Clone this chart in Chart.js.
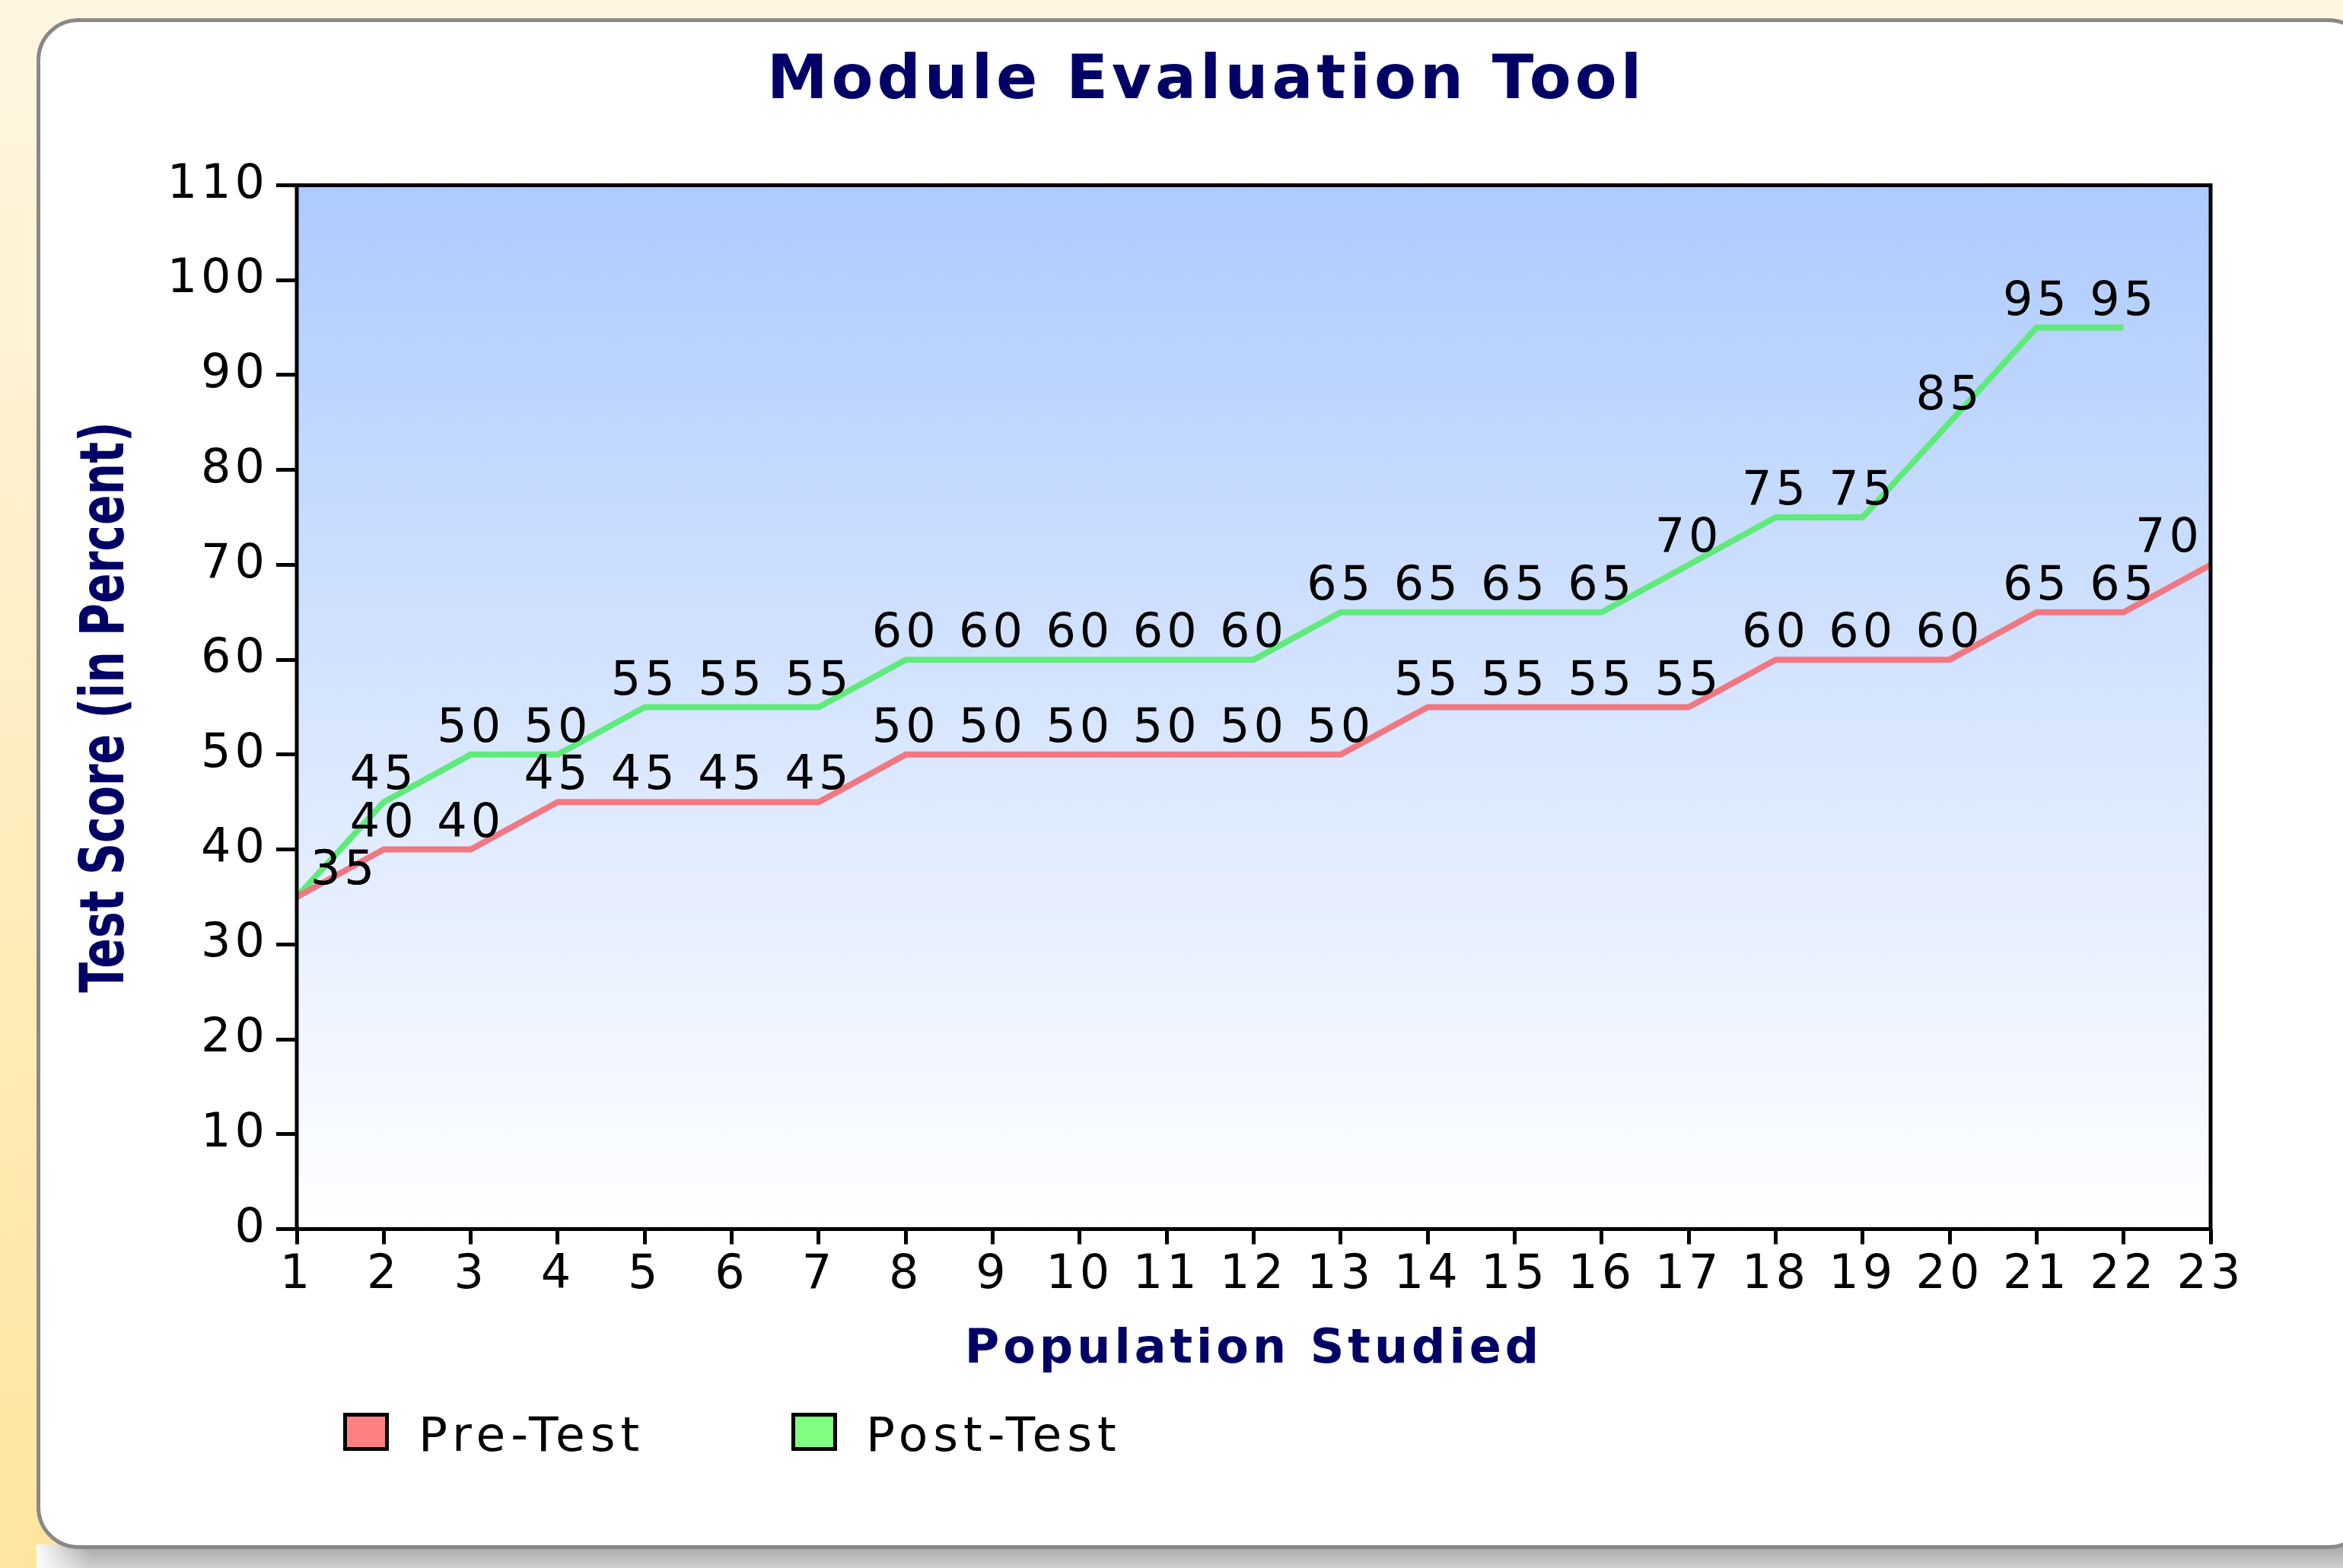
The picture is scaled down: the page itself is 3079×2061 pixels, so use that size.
<!DOCTYPE html>
<html>
<head>
<meta charset="utf-8">
<title>Module Evaluation Tool</title>
<script src="https://cdn.jsdelivr.net/npm/chart.js@4.4.0/dist/chart.umd.min.js"></script>
<style>
    html, body { margin: 0; padding: 0; }
    body {
        width: 3079px;
        height: 2061px;
        overflow: hidden;
        position: relative;
        background: linear-gradient(to bottom, #fff6e2 0%, #ffe59e 100%);
    }
    #shadow {
        position: absolute;
        left: 48px; top: 2030px;
        width: 3100px; height: 31px;
        background:
            linear-gradient(to right, #fdfdfd 0px, rgba(253, 253, 253, 0) 70px),
            linear-gradient(to bottom, #a5a5a5, #d0d0d0);
    }
    #panel {
        position: absolute;
        left: 48px; top: 24px;
        width: 3067px; height: 2012px;
        box-sizing: border-box;
        border: 5px solid #888888;
        border-radius: 55px;
        background: #ffffff;
    }
    #chart { position: absolute; left: 0; top: 0; }
</style>
</head>
<body>
<div id="shadow"></div>
<div id="panel"></div>
<canvas id="chart" width="3079" height="2061"></canvas>
<script>
// ============================================
// DATA
// ============================================
const populationLabels = ['1', '2', '3', '4', '5', '6', '7', '8', '9', '10', '11', '12',
    '13', '14', '15', '16', '17', '18', '19', '20', '21', '22', '23'];
const preTestScores = [35, 40, 40, 45, 45, 45, 45, 50, 50, 50, 50, 50, 50, 55, 55, 55, 55,
    60, 60, 60, 65, 65, 70];
const postTestScores = [35, 45, 50, 50, 55, 55, 55, 60, 60, 60, 60, 60, 65, 65, 65, 65, 70,
    75, 75, 85, 95, 95];
const scoreTicks = [0, 10, 20, 30, 40, 50, 60, 70, 80, 90, 100, 110];
const seriesNames = ['Pre-Test', 'Post-Test'];

// ============================================
// PLUGINS
// ============================================
const NAVY = '#000066';
const FONT = '"DejaVu Sans", Verdana, sans-serif';

// the original font runs wider than DejaVu, so spread the letters a bit
const letterSpacing = {
    id: 'letterSpacing',
    beforeLayout(chart) { chart.ctx.letterSpacing = '5px'; },
    beforeDraw(chart) { chart.ctx.letterSpacing = '5px'; }
};

const plotBackground = {
    id: 'plotBackground',
    beforeDraw(chart) {
        const { ctx, chartArea: a } = chart;
        const g = ctx.createLinearGradient(0, a.top, 0, a.bottom);
        g.addColorStop(0, '#adcbfe');
        g.addColorStop(1, '#ffffff');
        ctx.save();
        ctx.fillStyle = g;
        ctx.fillRect(a.left, a.top, a.right - a.left, a.bottom - a.top);
        ctx.restore();
    }
};

// value labels above each point, kept inside the plot
const pointLabels = {
    id: 'pointLabels',
    afterDatasetsDraw(chart) {
        const { ctx, chartArea: a } = chart;
        ctx.save();
        ctx.font = '62px ' + FONT;
        ctx.fillStyle = '#000';
        ctx.textAlign = 'left';
        ctx.textBaseline = 'alphabetic';
        chart.data.datasets.forEach((ds, i) => {
            chart.getDatasetMeta(i).data.forEach((pt, j) => {
                const text = String(ds.data[j]);
                const w = ctx.measureText(text).width;
                let x = pt.x - w / 2;
                x = Math.max(a.left + 18, Math.min(a.right - 10 - w, x));
                ctx.fillText(text, x, pt.y - 17);
            });
        });
        ctx.lineWidth = 5;
        ctx.strokeStyle = '#000';
        ctx.strokeRect(a.left, a.top, a.right - a.left, a.bottom - a.top);
        ctx.restore();
    }
};

// rotated y title (condensed) and the legend row
const sideTexts = {
    id: 'sideTexts',
    afterDraw(chart, args, opts) {
        const ctx = chart.ctx;
        const a = chart.chartArea;

        ctx.save();
        ctx.letterSpacing = '0px';
        ctx.translate(opts.yTitleX, (a.top + a.bottom) / 2);
        ctx.rotate(-Math.PI / 2);
        ctx.scale(0.73, 1);
        ctx.font = 'bold 80px ' + FONT;
        ctx.fillStyle = NAVY;
        ctx.textAlign = 'center';
        ctx.textBaseline = 'middle';
        ctx.fillText(opts.yTitle, 0, 0);
        ctx.restore();

        ctx.save();
        ctx.letterSpacing = '7px';
        ctx.font = '63px ' + FONT;
        ctx.textAlign = 'left';
        ctx.textBaseline = 'alphabetic';
        chart.data.datasets.forEach((ds, i) => {
            const x = opts.boxX[i];
            ctx.fillStyle = opts.fills[i];
            ctx.fillRect(x, opts.boxY, opts.boxW, opts.boxH);
            ctx.lineWidth = 5;
            ctx.strokeStyle = '#000';
            ctx.strokeRect(x + 2.5, opts.boxY + 2.5, opts.boxW - 5, opts.boxH - 5);
            ctx.fillStyle = '#000';
            ctx.fillText(ds.label, opts.textX[i], opts.textY);
        });
        ctx.restore();
    }
};

// ============================================
// CHART
// ============================================
Chart.defaults.font.family = FONT;
Chart.defaults.color = '#000';

new Chart(document.getElementById('chart'), {
    type: 'line',
    data: {
        labels: populationLabels,
        datasets: [{
            label: seriesNames[0],
            data: preTestScores,
            borderColor: '#f07882',
            borderWidth: 8,
            pointRadius: 0,
            tension: 0,
            fill: false
        }, {
            label: seriesNames[1],
            data: postTestScores,
            borderColor: '#60ea7c',
            borderWidth: 8,
            pointRadius: 0,
            tension: 0,
            fill: false
        }]
    },
    options: {
        responsive: false,
        animation: false,
        devicePixelRatio: 1,
        layout: {
            padding: { left: 205, right: 114, top: 0, bottom: 248.5 }
        },
        plugins: {
            legend: { display: false },
            tooltip: { enabled: false },
            title: {
                display: true,
                text: 'Module Evaluation Tool',
                color: NAVY,
                font: { size: 80, weight: 'bold', lineHeight: 1.2 },
                padding: { top: 60, bottom: 87.5 }
            },
            sideTexts: {
                yTitle: 'Test Score (in Percent)',
                yTitleX: 141,
                boxX: [451, 1040],
                boxY: 1857,
                boxW: 60,
                boxH: 50,
                textX: [550, 1138],
                textY: 1907,
                fills: ['#ff8080', '#80ff80']
            }
        },
        scales: {
            x: {
                type: 'category',
                offset: false,
                grid: {
                    drawOnChartArea: false,
                    drawTicks: true,
                    tickLength: 20,
                    color: '#000',
                    lineWidth: 5,
                    offset: false
                },
                border: { display: false },
                ticks: {
                    autoSkip: false,
                    maxRotation: 0,
                    padding: 4,
                    color: '#000',
                    font: { size: 62, lineHeight: 1.2 }
                },
                title: {
                    display: true,
                    text: 'Population Studied',
                    color: NAVY,
                    font: { size: 62, weight: 'bold', lineHeight: 1.2 },
                    padding: { top: 0, bottom: 0 }
                },
                afterFit: (scale) => { scale.height = 197; }
            },
            y: {
                type: 'linear',
                min: 0,
                max: 110,
                grid: {
                    drawOnChartArea: false,
                    drawTicks: true,
                    tickLength: 27,
                    color: '#000',
                    lineWidth: 5
                },
                border: { display: false },
                ticks: {
                    padding: 10,
                    color: '#000',
                    font: { size: 62 }
                },
                afterBuildTicks: (scale) => {
                    scale.ticks = scoreTicks.map(v => ({ value: v }));
                },
                afterFit: (scale) => { scale.width = 185; }
            },
            // empty right-hand margin so the title centres where the original did
            yPad: {
                type: 'linear',
                position: 'right',
                grid: { display: false },
                border: { display: false },
                ticks: { display: false },
                afterFit: (scale) => { scale.width = 60; }
            }
        }
    },
    plugins: [letterSpacing, plotBackground, pointLabels, sideTexts]
});
</script>
</body>
</html>
